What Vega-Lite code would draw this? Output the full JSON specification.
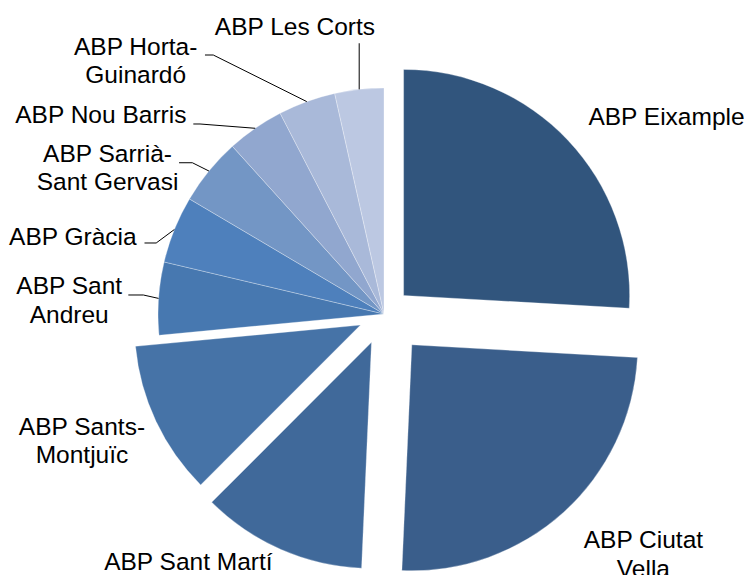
{
  "$schema": "https://vega.github.io/schema/vega-lite/v6.json",
  "autosize": "none",
  "padding": {"left": 17, "top": 53, "right": 0, "bottom": 0},
  "width": 734,
  "height": 522,
  "background": "#ffffff",
  "config": {"view": {"stroke": null}},
  "data": {
    "values": [
      {"name": "ABP Eixample", "share": 25.9},
      {"name": "ABP Ciutat\nVella", "share": 24.8},
      {"name": "ABP Sant Martí", "share": 11.8},
      {"name": "ABP Sants-\nMontjuïc", "share": 11.0},
      {"name": "ABP Sant\nAndreu", "share": 5.2},
      {"name": "ABP Gràcia", "share": 4.8},
      {"name": "ABP Sarrià-\nSant Gervasi", "share": 4.8},
      {"name": "ABP Nou Barris", "share": 4.1},
      {"name": "ABP Horta-\nGuinardó", "share": 4.1},
      {"name": "ABP Les Corts", "share": 3.5}
    ]
  },
  "transform": [
    {"window": [{"op": "row_number", "as": "k"}]},
    {"stack": "share", "groupby": [], "sort": [{"field": "k", "order": "ascending"}], "as": ["s0", "s1"]}
  ],
  "layer": [
    {
      "mark": {
        "type": "arc",
        "radius": 226,
        "stroke": "#ffffff",
        "strokeWidth": 0.5,
        "strokeOpacity": 0.6,
        "x": {"expr": "width/2 + [27,41.5,31,26,0,0,0,0,0,0][datum.k-1]*sin(scale('theta',(datum.s0+datum.s1)/2))"},
        "y": {"expr": "height/2 - [27,41.5,31,26,0,0,0,0,0,0][datum.k-1]*cos(scale('theta',(datum.s0+datum.s1)/2))"}
      },
      "encoding": {
        "theta": {"field": "s0", "type": "quantitative", "stack": null, "scale": {"domain": [0, 100]}},
        "theta2": {"field": "s1"},
        "color": {
          "field": "k",
          "type": "ordinal",
          "legend": null,
          "scale": {"range": ["#31557D", "#3A5E8B", "#40699A", "#4673A7", "#4778B0", "#4E80BC", "#7396C5", "#91A7CF", "#A9B9D9", "#BCC8E2"]}
        }
      }
    },
    {
      "transform": [{"filter": "datum.share < 6"}],
      "mark": {"type": "rule", "color": "#000000", "strokeWidth": 1},
      "encoding": {
        "x": {"value": {"expr": "width/2 + 226*sin(scale('theta',(datum.s0+datum.s1)/2))"}},
        "y": {"value": {"expr": "height/2 - 226*cos(scale('theta',(datum.s0+datum.s1)/2))"}},
        "x2": {"value": {"expr": "width/2 + 226*sin(scale('theta',(datum.s0+datum.s1)/2)) + [0,0,0,0,-15.2,-18.2,-16.6,-55.2,-93.5,0][datum.k-1]"}},
        "y2": {"value": {"expr": "height/2 - 226*cos(scale('theta',(datum.s0+datum.s1)/2)) + [0,0,0,0,-3.4,13.5,-8.3,-4.3,-46.6,-46.1][datum.k-1]"}}
      }
    },
    {
      "transform": [{"filter": "datum.share < 6"}],
      "mark": {"type": "rule", "color": "#000000", "strokeWidth": 1},
      "encoding": {
        "x": {"value": {"expr": "width/2 + 226*sin(scale('theta',(datum.s0+datum.s1)/2)) + [0,0,0,0,-15.2,-18.2,-16.6,-55.2,-93.5,0][datum.k-1]"}},
        "y": {"value": {"expr": "height/2 - 226*cos(scale('theta',(datum.s0+datum.s1)/2)) + [0,0,0,0,-3.4,13.5,-8.3,-4.3,-46.6,-46.1][datum.k-1]"}},
        "x2": {"value": {"expr": "width/2 + 226*sin(scale('theta',(datum.s0+datum.s1)/2)) + [0,0,0,0,-15.2,-18.2,-16.6,-55.2,-93.5,0][datum.k-1] - [0,0,0,0,15,11.7,13.3,6.7,8.3,0][datum.k-1]"}},
        "y2": {"value": {"expr": "height/2 - 226*cos(scale('theta',(datum.s0+datum.s1)/2)) + [0,0,0,0,-3.4,13.5,-8.3,-4.3,-46.6,-46.1][datum.k-1]"}}
      }
    },
    {
      "mark": {
        "type": "text",
        "font": "Liberation Sans",
        "fontSize": 24.5,
        "lineBreak": "\n",
        "lineHeight": 28.4,
        "align": "center",
        "baseline": "alphabetic",
        "color": "#000000",
        "x": {"expr": "width/2 + [339.9,349.5,322.4,325.3,315.4,318.6,315.6,341.4,358.9,292.9][datum.k-1]*sin(scale('theta',(datum.s0+datum.s1)/2) + [9.6,-5.8,13.6,3.4,-0.4,-9.5,-10.4,-21.3,-23.8,-11.4][datum.k-1]*PI/180)"},
        "y": {"expr": "height/2 - [339.9,349.5,322.4,325.3,315.4,318.6,315.6,341.4,358.9,292.9][datum.k-1]*cos(scale('theta',(datum.s0+datum.s1)/2) + [9.6,-5.8,13.6,3.4,-0.4,-9.5,-10.4,-21.3,-23.8,-11.4][datum.k-1]*PI/180)"}
      },
      "encoding": {
        "text": {"field": "name", "type": "nominal"}
      }
    }
  ]
}
